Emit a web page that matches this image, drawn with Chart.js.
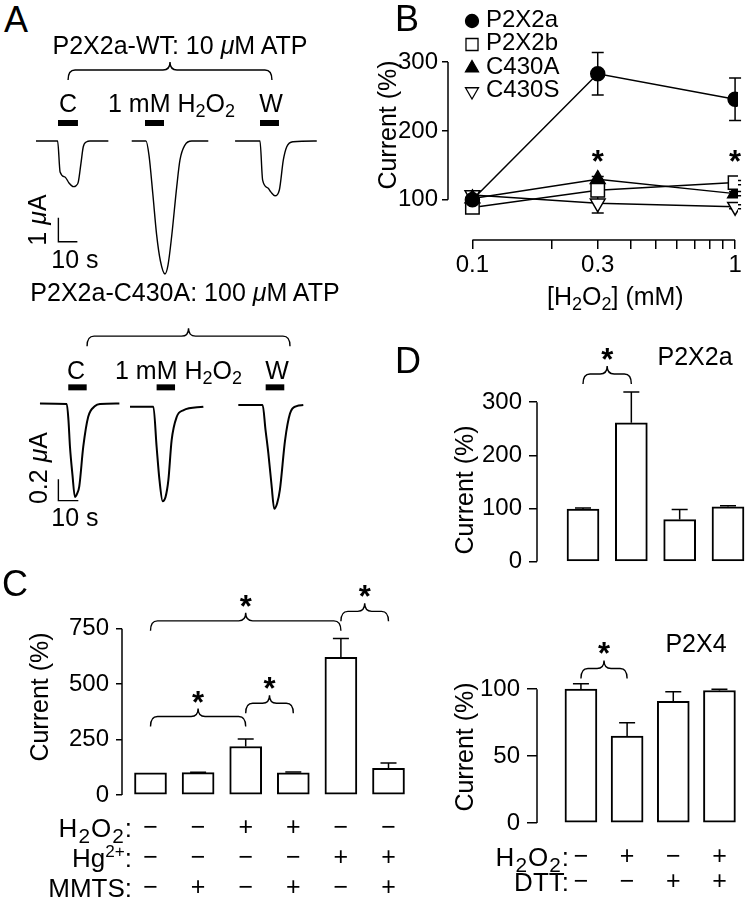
<!DOCTYPE html>
<html>
<head>
<meta charset="utf-8">
<script src="https://cdn.jsdelivr.net/npm/chart.js@4.4.1/dist/chart.umd.min.js"></script>
<style>
  html, body { margin: 0; padding: 0; background: #fff; }
  #fig { position: relative; width: 749px; height: 900px; overflow: hidden;
         font-family: "Liberation Sans", Arial, Helvetica, sans-serif; color: #000; }
  #fig canvas { position: absolute; }
  .t { position: absolute; white-space: nowrap; line-height: 1; font-size: 25px; }
  .t sub { font-size: 0.72em; vertical-align: baseline; position: relative; top: 0.3em; }
  .t sup { font-size: 0.66em; vertical-align: baseline; position: relative; top: -0.6em; }
  .t.row { font-size: 26px; }
  .t.row sub { font-size: 0.8em; margin: 0 1px; }
</style>
</head>
<body>
<div id="fig"></div>
<script>
// ---- panel A: current traces, [time (s), current (µA)] ----
const wtControl = [[8.4,0],[19.8,0],[21.1,-1.29],[23.7,-1.5],[25.8,-1.75],[28.1,-1.9],[29.5,-1.86],[30.7,-1.7],[32.1,-0.92],[33.3,-0.24],[35.1,-0.03],[36.8,0],[46.5,0]];
const wtH2O2 = [[58.8,0],[66.3,0],[67.9,-0.6],[69.9,-2.2],[71.9,-3.9],[73.9,-5.0],[76.3,-5.54],[77.9,-5.17],[79.8,-3.99],[82.5,-1.9],[84.2,-0.79],[86.8,-0.17],[90.4,0],[99.1,0]];
const wtWash = [[113.2,0],[126.3,0],[127.7,-1.63],[130.5,-1.96],[132.1,-2.13],[134.2,-2.28],[136.5,-2.04],[138.6,-0.79],[140.4,-0.24],[143.8,-0.03],[156.2,0]];
const mutControl = [[10.5,0.015],[24.6,0.01],[25.5,-0.14],[26.3,-0.39],[27.6,-0.65],[28.9,-0.86],[30,-0.83],[31.2,-0.76],[33.3,-0.39],[35.9,-0.11],[39.5,-0.01],[42.1,0.01],[52.3,0.015]];
const mutH2O2 = [[57.9,-0.016],[70.2,-0.016],[71.9,-0.39],[73.4,-0.7],[75.1,-0.9],[76.6,-0.86],[78.1,-0.7],[79.8,-0.33],[82.5,-0.11],[85.9,-0.05],[96.5,-0.016]];
const mutWash = [[114.9,0],[127.7,0],[129.2,-0.23],[130.7,-0.45],[132.4,-0.75],[133.8,-0.97],[135.3,-0.92],[136.8,-0.79],[139.5,-0.33],[142.1,-0.08],[145.6,-0.01],[149.1,0]];
const wtApplications = [[20,30.5],[65.8,75.8],[126.3,136.3]];   // start/end (s)
const mutApplications = [[25.4,35.1],[71.9,81.6],[129.3,139.1]];
const wtScaleBar = [[20.2,-3.2],[20.2,-4.2],[30.2,-4.2]];       // 1 µA, 10 s
const mutScaleBar = [[20.2,-0.694],[20.2,-0.894],[30.7,-0.894]]; // 0.2 µA, 10 s

// ---- panel B: dose dependence ----
const h2o2Conc = [0.1, 0.3, 1];
const p2x2a = [100, 283, 246];  const p2x2aErr = [0, 31, 31];
const p2x2b = [89, 114, 125];   const p2x2bErr = [8, 4, 3];
const c430a = [102, 130, 109];  const c430aErr = [3, 4, 3];
const c430s = [107, 95, 90];    const c430sErr = [3, 14, 3];
const bStarConc = [0.3, 1];
const bXTicks = [0.1, 0.2, 0.3, 0.4, 0.5, 0.6, 0.7, 0.8, 0.9, 1];
const bXLabels = [0.1, 0.3, 1];
const bYTicks = [100, 200, 300];

// ---- panel C ----
const cValues = [100, 101, 219, 100, 621, 120];
const cErr = [0, 2, 34, 4, 86, 24];
const cH2O2 = ['\u2212', '\u2212', '+', '+', '\u2212', '\u2212'];
const cHg = ['\u2212', '\u2212', '\u2212', '\u2212', '+', '+'];
const cMMTS = ['\u2212', '+', '\u2212', '+', '\u2212', '+'];
const cYTicks = [0, 250, 500, 750];
const cBraces = [[1, 3, 309], [3, 4, 369], [1, 5, 741], [5, 6, 784]]; // from bar, to bar, level (%)

// ---- panel D ----
const dTopValues = [99, 261, 79, 103];  const dTopErr = [2, 58, 19, 2];
const dBotValues = [100, 65, 91, 99];   const dBotErr = [4, 10, 7, 1];
const dH2O2 = ['\u2212', '+', '\u2212', '+'];
const dDTT = ['\u2212', '\u2212', '+', '+'];
const dTopYTicks = [0, 100, 200, 300];
const dBotYTicks = [0, 50, 100];
const dTopBraces = [[1, 2, 334]];
const dBotBraces = [[1, 2, 108]];

const FONT = '"Liberation Sans", Arial, Helvetica, sans-serif';
Chart.defaults.font.family = FONT;
Chart.defaults.font.size = 24;
Chart.defaults.color = '#000';
Chart.defaults.animation = false;
Chart.defaults.events = [];
Chart.defaults.plugins.legend.display = false;
Chart.defaults.plugins.tooltip.enabled = false;

const fig = document.getElementById('fig');

function canvasAt(l, t, w, h) {
  const c = document.createElement('canvas');
  c.width = w; c.height = h;
  c.style.left = l + 'px'; c.style.top = t + 'px';
  c.style.width = w + 'px'; c.style.height = h + 'px';
  fig.appendChild(c);
  return c;
}

// value range that puts v1 at pixel p1 and v2 at p2, evaluated at two pixel edges
function span(v1, p1, v2, p2, pa, pb) {
  const k = (v2 - v1) / (p2 - p1);
  return [v1 + (pa - p1) * k, v1 + (pb - p1) * k];
}

function txt(html, x, y, o = {}) {
  const d = document.createElement('div');
  d.className = 't' + (o.cls ? ' ' + o.cls : '');
  d.innerHTML = html;
  d.style.left = x + 'px'; d.style.top = y + 'px';
  if (o.size) d.style.fontSize = o.size + 'px';
  const ax = o.anchor === 'l' ? '0' : o.anchor === 'r' ? '-100%' : '-50%';
  d.style.transform = 'translate(' + ax + ',-50%)' + (o.rot ? ' rotate(-90deg)' : '');
  fig.appendChild(d);
}

function overlay(draw) {
  return { id: 'overlay', afterDatasetsDraw(chart) {
    const ctx = chart.ctx; ctx.save();
    ctx.strokeStyle = '#000'; ctx.fillStyle = '#000'; ctx.lineWidth = 1.5;
    draw(chart, ctx); ctx.restore();
  } };
}

function star(ctx, x, yc) {
  ctx.font = 'bold 31px ' + FONT;
  ctx.textAlign = 'center'; ctx.textBaseline = 'alphabetic';
  ctx.fillText('*', x, yc + 17);
}

function brace(ctx, xa, xb, y0, withStar) {
  const hook = 10, tip = 8, r = Math.min(7, (xb - xa) / 4);
  const xm = (xa + xb) / 2, yl = y0 - hook, yt = yl - tip;
  ctx.lineWidth = 1.4;
  ctx.beginPath();
  ctx.moveTo(xa, y0);
  ctx.quadraticCurveTo(xa, yl, xa + r, yl);
  ctx.lineTo(xm - r, yl);
  ctx.quadraticCurveTo(xm, yl, xm, yt);
  ctx.quadraticCurveTo(xm, yl, xm + r, yl);
  ctx.lineTo(xb - r, yl);
  ctx.quadraticCurveTo(xb, yl, xb, y0);
  ctx.stroke();
  if (withStar) star(ctx, xm, yt - 13);
}

function vAxisLine(chart, lo, hi) {
  const ctx = chart.ctx, y = chart.scales.y, x = chart.chartArea.left;
  ctx.lineWidth = 1.5;
  ctx.beginPath(); ctx.moveTo(x, y.getPixelForValue(lo)); ctx.lineTo(x, y.getPixelForValue(hi)); ctx.stroke();
}

// ================= Panel A =================
function traceChart(box, ySpan, traces, apps, appLevel, scaleBar, braceDef, lw) {
  const [L, T, W, H] = box;
  const cv = canvasAt(L, T, W, H);
  const xr = span(0, L, 10, L + 19, L, L + W);
  const yr = span(ySpan[0], ySpan[1], ySpan[2], ySpan[3], T + H, T);
  const pts = arr => arr.map(p => ({ x: p[0], y: p[1] }));
  const datasets = traces.map(tr => ({ data: pts(tr), borderColor: '#000', borderWidth: lw,
    pointRadius: 0, cubicInterpolationMode: 'monotone' }));
  apps.forEach(a => datasets.push({ data: [{ x: a[0], y: appLevel }, { x: a[1], y: appLevel }],
    borderColor: '#000', borderWidth: 6, pointRadius: 0, borderCapStyle: 'butt' }));
  datasets.push({ data: pts(scaleBar), borderColor: '#000', borderWidth: 1.4, pointRadius: 0 });
  new Chart(cv, {
    type: 'line',
    data: { datasets },
    options: {
      responsive: false, layout: { padding: 0 },
      scales: { x: { type: 'linear', display: false, min: xr[0], max: xr[1] },
                y: { display: false, min: yr[0], max: yr[1] } }
    },
    plugins: [overlay((ch, ctx) => {
      brace(ctx, ch.scales.x.getPixelForValue(braceDef[0]), ch.scales.x.getPixelForValue(braceDef[1]),
        ch.scales.y.getPixelForValue(braceDef[2]), false);
    })]
  });
}

traceChart([20, 55, 310, 235], [0, 141, -1, 165], [wtControl, wtH2O2, wtWash], wtApplications, 0.75,
  wtScaleBar, [25.3, 132.6, 2.54], 1.4);
traceChart([20, 315, 310, 205], [0, 405, -1, 512], [mutControl, mutH2O2, mutWash], mutApplications, 0.165,
  mutScaleBar, [35.3, 142.1, 0.55], 2);

txt('A', 16, 20, { size: 36 });
txt('P2X2a-WT: 10 <i>\u03bc</i>M ATP', 180, 45);
txt('C', 68, 103); txt('1 mM H<sub>2</sub>O<sub>2</sub>', 108, 103, { anchor: 'l' }); txt('W', 271, 103);
txt('1 <i>\u03bc</i>A', 37, 220, { rot: true });
txt('10 s', 75, 259);
txt('P2X2a-C430A: 100 <i>\u03bc</i>M ATP', 185, 292);
txt('C', 76, 370); txt('1 mM H<sub>2</sub>O<sub>2</sub>', 115, 370, { anchor: 'l' }); txt('W', 277, 370);
txt('0.2 <i>\u03bc</i>A', 38, 468, { rot: true });
txt('10 s', 75, 517);

// ================= Panel B =================
(function () {
  const L = 380, T = 0, W = 369, H = 330;
  const left = 448, right = 745, top = 10, bottom = 240;
  const cv = canvasAt(L, T, W, H);
  const lx = span(-1, 473, 0, 742, left, right);
  const yr = span(100, 198.3, 300, 55.3, bottom, top);
  const series = [
    { y: p2x2a, err: p2x2aErr, name: 'P2X2a', style: 'circle', r: 7, bg: '#000', rot: 0, lr: 6.5 },
    { y: p2x2b, err: p2x2bErr, name: 'P2X2b', style: 'rect', r: 9.5, bg: '#fff', rot: 0, lr: 8.5 },
    { y: c430a, err: c430aErr, name: 'C430A', style: 'triangle', r: 8.5, bg: '#000', rot: 0, lr: 7.5 },
    { y: c430s, err: c430sErr, name: 'C430S', style: 'triangle', r: 8.5, bg: '#fff', rot: 180, lr: 7.5 }
  ];
  new Chart(cv, {
    type: 'line',
    data: { datasets: series.map(s => ({
      data: h2o2Conc.map((c, i) => ({ x: c, y: s.y[i] })),
      borderColor: '#000', borderWidth: 1.5, tension: 0,
      pointStyle: s.style, pointRadius: s.r, pointRotation: s.rot,
      pointBackgroundColor: s.bg, pointBorderColor: '#000', pointBorderWidth: 1.5
    })) },
    options: {
      responsive: false, layout: { padding: { top: top - T, right: L + W - right } },
      scales: {
        x: { type: 'logarithmic', min: Math.pow(10, lx[0]), max: Math.pow(10, lx[1]),
             afterBuildTicks: s => { s.ticks = bXTicks.map(v => ({ value: v })); },
             afterFit: s => { s.height = T + H - bottom; },
             border: { display: false },
             grid: { drawOnChartArea: false, tickLength: 9, color: '#000', lineWidth: 1.5 },
             ticks: { autoSkip: false, maxRotation: 0, padding: 2,
                      callback: v => bXLabels.some(b => Math.abs(b - v) < 1e-9) ? String(v) : '' } },
        y: { min: yr[0], max: yr[1],
             afterBuildTicks: s => { s.ticks = bYTicks.map(v => ({ value: v })); },
             afterFit: s => { s.width = left - L; },
             border: { display: false },
             grid: { drawOnChartArea: false, tickLength: 6, color: '#000', lineWidth: 1.5 },
             ticks: { padding: 4 } }
      }
    },
    plugins: [{ id: 'errs', beforeDatasetsDraw(ch) {
      const ctx = ch.ctx, xs = ch.scales.x, ys = ch.scales.y;
      ctx.save(); ctx.strokeStyle = '#000'; ctx.lineWidth = 1.5;
      series.forEach(s => h2o2Conc.forEach((c, i) => {
        if (!s.err[i]) return;
        const x = xs.getPixelForValue(c), y1 = ys.getPixelForValue(s.y[i] - s.err[i]),
              y2 = ys.getPixelForValue(s.y[i] + s.err[i]);
        ctx.beginPath(); ctx.moveTo(x, y1); ctx.lineTo(x, y2);
        ctx.moveTo(x - 6, y1); ctx.lineTo(x + 6, y1); ctx.moveTo(x - 6, y2); ctx.lineTo(x + 6, y2);
        ctx.stroke();
      }));
      ctx.restore();
    } }, overlay((ch, ctx) => {
      const xs = ch.scales.x, ys = ch.scales.y, a = ch.chartArea;
      vAxisLine(ch, bYTicks[0], bYTicks[bYTicks.length - 1]);
      ctx.beginPath();
      ctx.moveTo(xs.getPixelForValue(bXTicks[0]), a.bottom);
      ctx.lineTo(xs.getPixelForValue(bXTicks[bXTicks.length - 1]), a.bottom);
      ctx.stroke();
      bStarConc.forEach(c => star(ctx, xs.getPixelForValue(c), ys.getPixelForValue(165)));
      // legend
      ctx.font = '24px ' + FONT; ctx.textAlign = 'left'; ctx.textBaseline = 'middle';
      series.forEach((s, i) => {
        const yy = 20 + i * 23.5;
        ctx.fillStyle = s.bg; ctx.strokeStyle = '#000'; ctx.lineWidth = 1.3;
        Chart.helpers.drawPoint(ctx, { pointStyle: s.style, radius: s.lr, rotation: s.rot, borderWidth: 1.3 },
          472 - L, yy + 1);
        ctx.fillStyle = '#000';
        ctx.fillText(s.name, 486 - L, yy);
      });
    })]
  });
  txt('B', 407, 19, { size: 36 });
  txt('Current (%)', 387, 125, { rot: true });
  txt('[H<sub>2</sub>O<sub>2</sub>] (mM)', 547, 296, { anchor: 'l' });
})();

// ================= bar panels (C, D) =================
function barChart(box, area, xRef, yRef, values, errs, yTicks, rows, rowCfg, braces) {
  const [L, T, W, H] = box;
  const [left, right, top, bottom] = area;
  const cv = canvasAt(L, T, W, H);
  const xr = span(1, xRef[0], values.length, xRef[1], left, right);
  const yr = span(0, bottom, yRef[0], yRef[1], bottom, top);
  new Chart(cv, {
    type: 'bar',
    data: { datasets: [{ data: values.map((v, i) => ({ x: i + 1, y: v })),
      backgroundColor: '#fff', borderColor: '#000', borderWidth: 2, borderSkipped: false, barThickness: 32 }] },
    options: {
      responsive: false,
      layout: { padding: { top: top - T, right: L + W - right, bottom: rows ? 0 : T + H - bottom } },
      scales: {
        x: { type: 'linear', offset: false, min: xr[0], max: xr[1], display: !!rows,
             afterBuildTicks: s => { s.ticks = values.map((v, i) => ({ value: i + 1 })); },
             afterFit: s => { s.height = T + H - bottom; },
             border: { display: false }, grid: { display: false, drawTicks: false },
             ticks: { autoSkip: false, maxRotation: 0, minRotation: 0,
                      padding: rowCfg ? rowCfg.pad : 0,
                      font: { size: 25, lineHeight: rowCfg ? rowCfg.lh + 'px' : 1.2 },
                      callback: (v) => rows ? rows.map(r => r[Math.round(v) - 1]) : '' } },
        y: { min: yr[0], max: yr[1],
             afterBuildTicks: s => { s.ticks = yTicks.map(v => ({ value: v })); },
             afterFit: s => { s.width = left - L; },
             border: { display: false },
             grid: { drawOnChartArea: false, tickLength: rowCfg ? rowCfg.tick : 8, color: '#000', lineWidth: 1.5 },
             ticks: { padding: 7 } }
      }
    },
    plugins: [overlay((ch, ctx) => {
      const xs = ch.scales.x, ys = ch.scales.y;
      vAxisLine(ch, yTicks[0], yTicks[yTicks.length - 1]);
      ctx.lineWidth = 1.5;
      values.forEach((v, i) => {
        if (!errs[i]) return;
        const x = xs.getPixelForValue(i + 1), y1 = ys.getPixelForValue(v), y2 = ys.getPixelForValue(v + errs[i]);
        ctx.beginPath(); ctx.moveTo(x, y1); ctx.lineTo(x, y2);
        ctx.moveTo(x - 8, y2); ctx.lineTo(x + 8, y2); ctx.stroke();
      });
      braces.forEach(b => brace(ctx, xs.getPixelForValue(b[0]), xs.getPixelForValue(b[1]),
        ys.getPixelForValue(b[2]), true));
    })]
  });
}

barChart([0, 560, 420, 345], [122, 415, 570, 795], [150.5, 388.5], [750, 620],
  cValues, cErr, cYTicks, [cH2O2, cHg, cMMTS], { pad: 18, lh: 30, tick: 6 }, cBraces);
txt('C', 15, 584, { size: 36 });
txt('Current (%)', 39, 697, { rot: true });
txt('H<sub>2</sub>O<sub>2</sub>:', 132, 828, { anchor: 'r', cls: 'row' });
txt('Hg<sup>2+</sup>:', 132, 858, { anchor: 'r', cls: 'row' });
txt('MMTS:', 132, 888, { anchor: 'r', cls: 'row' });

barChart([420, 290, 329, 293], [537, 746, 300, 573], [583, 728], [100, 515],
  dTopValues, dTopErr, dTopYTicks, null, null, dTopBraces);
barChart([420, 615, 329, 290], [537, 746, 625, 823], [583, 728], [100, 681],
  dBotValues, dBotErr, dBotYTicks, [dH2O2, dDTT], { pad: 22, lh: 25, tick: 10 }, dBotBraces);
txt('D', 408, 361, { size: 36 });
txt('P2X2a', 695, 356);
txt('P2X4', 696, 643);
txt('Current (%)', 464, 490, { rot: true });
txt('Current (%)', 464, 747, { rot: true });
txt('H<sub>2</sub>O<sub>2</sub>:', 569, 857, { anchor: 'r', cls: 'row' });
txt('DTT:', 569, 882, { anchor: 'r', cls: 'row' });
</script>
</body>
</html>
